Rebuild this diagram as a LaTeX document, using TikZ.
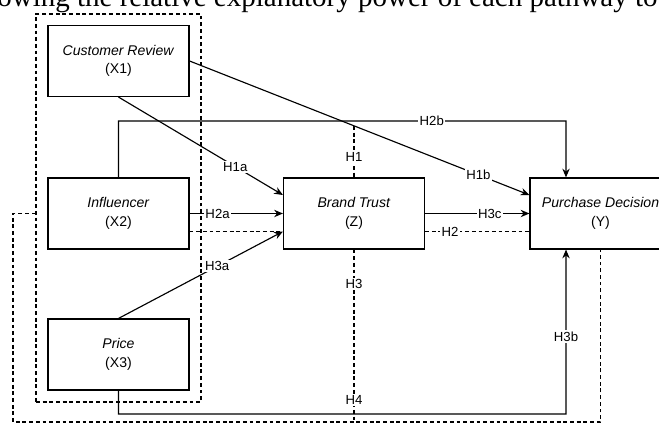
\documentclass[tikz,border=0pt]{standalone}
\usepackage{fontspec}
\setmainfont{Liberation Sans}
\newfontfamily\capfont{Liberation Serif}
\usetikzlibrary{arrows.meta}

\begin{document}
\begin{tikzpicture}[x=0.2mm,y=-0.2mm,
    box/.style={draw,line width=0.65pt,minimum width=28.2mm,minimum height=14.2mm,inner sep=1pt,align=center,font=\fontsize{8}{10.5}\selectfont},
    arr/.style={line width=0.65pt,-{Stealth[length=5pt,width=4.2pt]}},
    dsh/.style={line width=0.65pt,dash pattern=on 2.2pt off 1.6pt},
    lbl/.style={fill=white,inner sep=0.8pt,font=\fontsize{7.5}{8}\selectfont}]
        \useasboundingbox (0,0) rectangle (659,424);
        \node[anchor=base west,inner sep=0pt,font=\capfont\fontsize{16.5}{18}\selectfont] (cap) at (-3,7) {owing the relative explanatory power of each pathway to};

        \node[box] (cr) at (118.5,61) {\textit{Customer Review}\\(X1)};
        \node[box] (inf) at (118.5,213.5) {\textit{Influencer}\\(X2)};
        \node[box] (pr) at (118.5,354.5) {\textit{Price}\\(X3)};
        \node[box] (bt) at (354,213.5) {\textit{Brand Trust}\\(Z)};
        \node[box] (pd) at (600.5,213.5) {\textit{Purchase Decision}\\(Y)};
        \node[dsh,draw,inner sep=0pt,minimum width=33mm,minimum height=77.6mm] (grp) at (118.5,208) {};

        \coordinate (h2b) at (566,121);
        \coordinate (h3b) at (566,414);
        \coordinate (h1top) at (354,126);
        \coordinate (lowz) at (354,422);
        \coordinate (lowl) at (13,422);
        \coordinate (lowr) at (600.5,422);

        \draw[arr] (cr.east) -- node[lbl,pos=0.85] {H1b} ([yshift=3.7mm]pd.west);
        \draw[arr] (cr.south) -- node[lbl,pos=0.71] {H1a} ([yshift=3.7mm]bt.west);
        \draw[arr] (inf.east) -- node[lbl,pos=0.3] {H2a} (bt.west);
        \draw[dsh] ([yshift=-3.6mm]inf.east) -- ([yshift=-3.6mm]bt.west);
        \draw[arr] (pr.north) -- node[lbl,pos=0.6] {H3a} ([yshift=-3.6mm]bt.west);
        \draw[arr] (bt.east) -- node[lbl,pos=0.62] {H3c} (pd.west);
        \draw[dsh] ([yshift=-3.6mm]bt.east) -- node[lbl,pos=0.24] {H2} ([yshift=-3.6mm]pd.west);
        \draw[arr] (inf.north) |- node[lbl,pos=0.85] {H2b} (h2b) -- ([xshift=-6.9mm]pd.north);
        \draw[arr] (pr.south) |- (h3b) -- node[lbl,pos=0.47] {H3b} ([xshift=-6.9mm]pd.south);

        \draw[dsh] (h1top) -- node[lbl,pos=0.6] {H1} (bt.north);
        \draw[dsh] (bt.south) -- node[lbl,pos=0.2] {H3} node[lbl,pos=0.87] {H4} (lowz);
        \draw[dsh] (grp.west |- inf) -| (lowl) -- (lowr) -- (pd.south);
    \end{tikzpicture}
\end{document}
